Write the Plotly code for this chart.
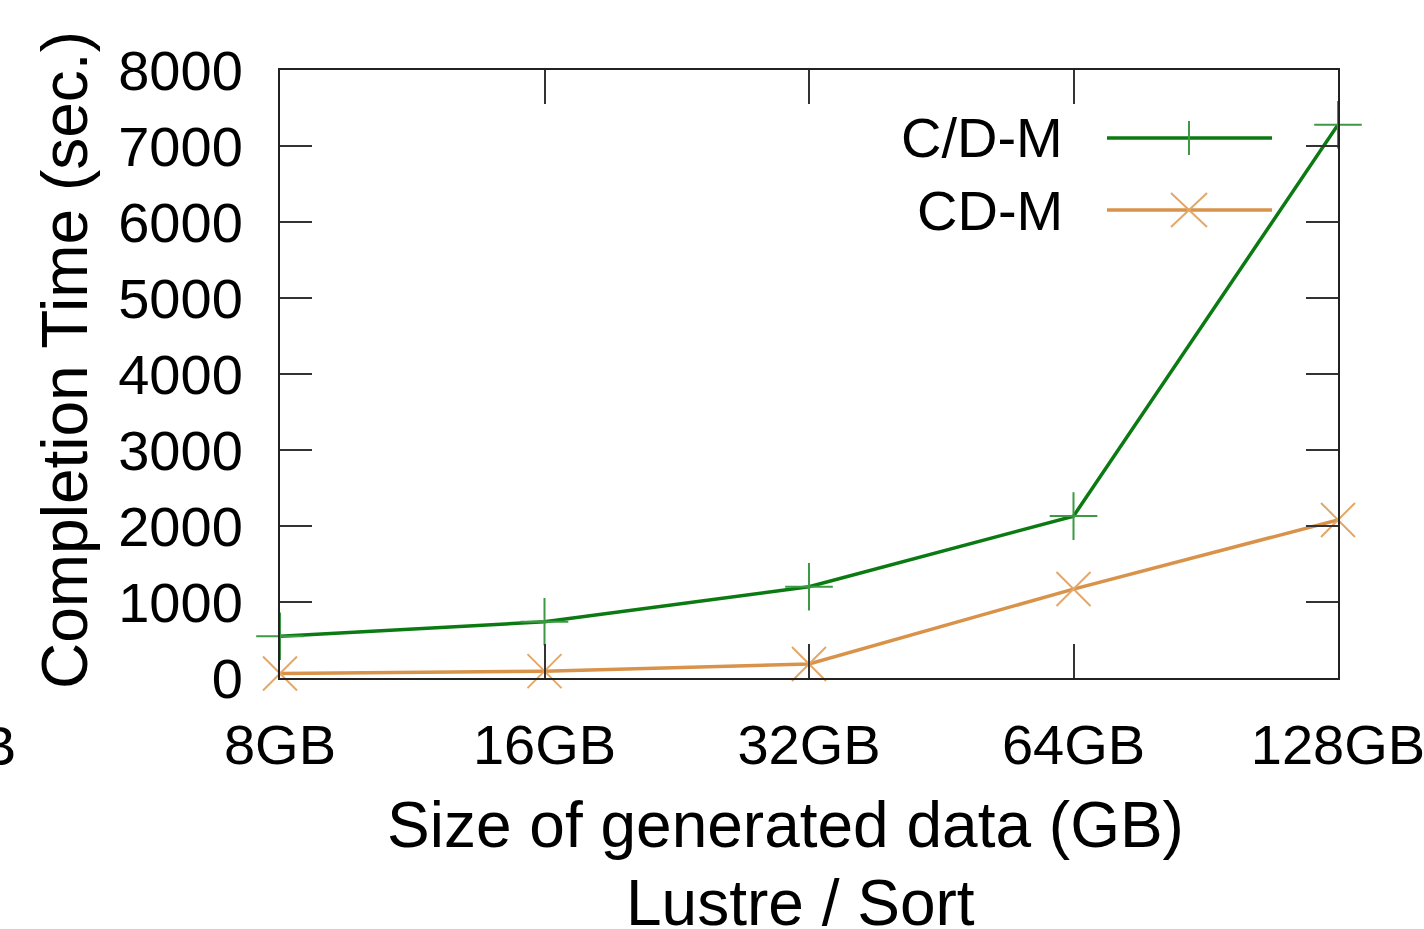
import plotly.graph_objects as go

categories = ["8GB", "16GB", "32GB", "64GB", "128GB"]
cdm_split = [550, 740, 1200, 2130, 7280]   # C/D-M
cdm_fused = [60, 90, 185, 1170, 2080]      # CD-M
y_ticks = [0, 1000, 2000, 3000, 4000, 5000, 6000, 7000, 8000]

W, H = 1424, 929
L, R, T, B = 280, 1338, 70, 678
FONT = "Liberation Sans, Arial, sans-serif"
GREEN_LINE = "#0b7a12"
GREEN_MARK = "#3c9a44"
ORANGE_LINE = "#d8924a"
ORANGE_MARK = "#e3a768"


def px(x):
    return (x - L) / (R - L)


def py(y):
    return (B - y) / (B - T)


fig = go.Figure()
fig.add_trace(go.Scatter(
    x=categories, y=cdm_split, mode="lines+markers", name="C/D-M",
    line=dict(color=GREEN_LINE, width=3.5),
    marker=dict(symbol="cross-thin", size=34, line=dict(color=GREEN_MARK, width=2)),
    cliponaxis=False, showlegend=False))
fig.add_trace(go.Scatter(
    x=categories, y=cdm_fused, mode="lines+markers", name="CD-M",
    line=dict(color=ORANGE_LINE, width=3.5),
    marker=dict(symbol="x-thin", size=34, line=dict(color=ORANGE_MARK, width=2)),
    cliponaxis=False, showlegend=False))

shapes = []
annotations = []
# manual gnuplot-style legend (text left, sample right)
legend_rows = [("C/D-M", 138, GREEN_LINE, GREEN_MARK, "plus"),
               ("CD-M", 210, ORANGE_LINE, ORANGE_MARK, "x")]
for label, yy, lc, mc, kind in legend_rows:
    annotations.append(dict(x=px(1065), y=py(yy), xref="paper", yref="paper",
                            text=label, showarrow=False, xanchor="right", yanchor="middle",
                            font=dict(family=FONT, size=56, color="black")))
    shapes.append(dict(type="line", xref="paper", yref="paper",
                       x0=px(1107), x1=px(1272), y0=py(yy), y1=py(yy),
                       line=dict(color=lc, width=3.5)))
    if kind == "plus":
        shapes.append(dict(type="line", xref="paper", yref="paper",
                           x0=px(1189), x1=px(1189), y0=py(yy - 17), y1=py(yy + 17),
                           line=dict(color=mc, width=2)))
    else:
        shapes.append(dict(type="line", xref="paper", yref="paper",
                           x0=px(1171), x1=px(1207), y0=py(yy - 17), y1=py(yy + 17),
                           line=dict(color=mc, width=2)))
        shapes.append(dict(type="line", xref="paper", yref="paper",
                           x0=px(1171), x1=px(1207), y0=py(yy + 17), y1=py(yy - 17),
                           line=dict(color=mc, width=2)))

# axis titles (placed as annotations to match gnuplot layout)
annotations.append(dict(x=px(65), y=py(360), xref="paper", yref="paper",
                        text="Completion Time (sec.)", textangle=-90, showarrow=False,
                        xanchor="center", yanchor="middle",
                        font=dict(family=FONT, size=64, color="black")))
annotations.append(dict(x=px(785), y=py(825), xref="paper", yref="paper",
                        text="Size of generated data (GB)", showarrow=False,
                        xanchor="center", yanchor="middle",
                        font=dict(family=FONT, size=64, color="black")))
annotations.append(dict(x=px(800), y=py(903), xref="paper", yref="paper",
                        text="Lustre / Sort", showarrow=False, xanchor="center", yanchor="middle",
                        font=dict(family=FONT, size=64, color="black")))
# fragment of neighbouring chart's tick label at the left edge
annotations.append(dict(x=px(18), y=py(745), xref="paper", yref="paper",
                        text="B", showarrow=False, xanchor="right", yanchor="middle",
                        font=dict(family=FONT, size=56, color="black")))

fig.update_layout(
    width=W, height=H,
    margin=dict(l=L, r=W - R, t=T, b=H - B, autoexpand=False),
    paper_bgcolor="white", plot_bgcolor="white",
    font=dict(family=FONT, size=56, color="black"),
    shapes=shapes, annotations=annotations,
    xaxis=dict(
        type="category", range=[0, 4], categoryorder="array", categoryarray=categories,
        showgrid=False, zeroline=False,
        showline=True, linecolor="#222", linewidth=2, mirror="ticks",
        ticks="inside", ticklen=34, tickwidth=2, tickcolor="#333",
        ticklabelstandoff=17,
        tickfont=dict(family=FONT, size=56, color="black"),
        automargin=False,
    ),
    yaxis=dict(
        range=[0, 8000], tickvals=y_ticks, ticktext=[str(v) for v in y_ticks],
        showgrid=False, zeroline=False,
        showline=True, linecolor="#222", linewidth=2, mirror="ticks",
        ticks="inside", ticklen=32, tickwidth=2, tickcolor="#333",
        ticklabelstandoff=24,
        tickfont=dict(family=FONT, size=56, color="black"),
        automargin=False,
    ),
)

fig.write_html("out.html", config={"displayModeBar": False},
               post_script="document.body.style.margin='0';document.body.style.overflow='hidden';")
